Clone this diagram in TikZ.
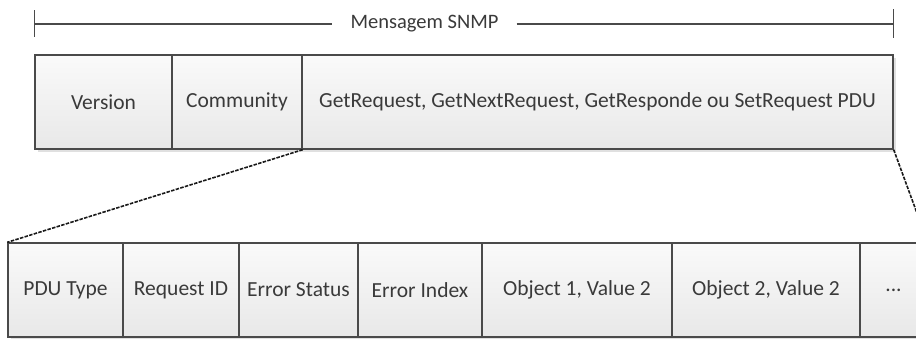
\documentclass[tikz,border=0pt]{standalone}
\usepackage{fontspec}
\setmainfont{Carlito}
\definecolor{edge}{HTML}{4A4A4A}
\definecolor{ink}{HTML}{3A3A3A}
\tikzset{
  x=1pt, y=-1pt,
  field/.style={draw=edge, line width=1.4pt, rectangle, inner sep=0pt,
    top color=white!98!black, bottom color=black!9, text=ink,
    font=\fontsize{21.5}{25}\selectfont, minimum height=94pt},
  fieldshadow/.style={fill=black!12, draw=none},
  bracket/.style={draw=edge, line width=1.4pt},
  zoomline/.style={draw=black!90, line width=1.6pt, dash pattern=on 3.5pt off 1.3pt}
}
\begin{document}
\begin{tikzpicture}
\clip (0,0) rectangle (916,338);
\fill[white] (0,0) rectangle (916,338);

% soft shadows under the two rows
\fill[fieldshadow] (38,58) rectangle (896,152);
\fill[fieldshadow] (11,246) rectangle (930,340);

% top row: SNMP message
\node[field, minimum width=137pt] (ver)  at (103.5,102) {Version};
\node[field, minimum width=130pt] (comm) at (237,102)   {Community};
\node[field, minimum width=591pt] (pdu)  at (597.5,102) {GetRequest, GetNextRequest, GetResponde ou SetRequest PDU};

% bottom row: PDU fields
\node[field, minimum width=115pt] (ptype) at (65.5,290)  {PDU Type};
\node[field, minimum width=116pt] (reqid) at (181,290)   {Request ID};
\node[field, minimum width=119pt] (estat) at (298.5,290) {Error Status};
\node[field, minimum width=124pt] (eidx)  at (420,290)   {Error Index};
\node[field, minimum width=190pt] (obj1)  at (577,290)   {Object 1, Value 2};
\node[field, minimum width=188pt] (obj2)  at (766,290)   {Object 2, Value 2};
\node[field, minimum width=67pt]  (more)  at (893.5,290) {...};

% dimension bracket over the whole message
\coordinate (bl) at (ver.north west |- 0,24);
\coordinate (br) at (pdu.north east |- 0,24);
\node[text=ink, font=\fontsize{20.5}{24}\selectfont, inner xsep=18pt, inner ysep=0pt] (msg) at (424.5,24) {Mensagem SNMP};
\draw[bracket] (bl) -- (msg.west);
\draw[bracket] (msg.east) -- (br);
\draw[bracket] ([yshift=14pt]bl) -- ([yshift=-13pt]bl);
\draw[bracket] ([yshift=15pt]br) -- ([yshift=-14pt]br);

% expansion of the PDU into its fields
\draw[zoomline] (comm.south east) -- (ptype.north west);
\draw[zoomline] (pdu.south east) -- (more.north east);
\end{tikzpicture}
\end{document}
